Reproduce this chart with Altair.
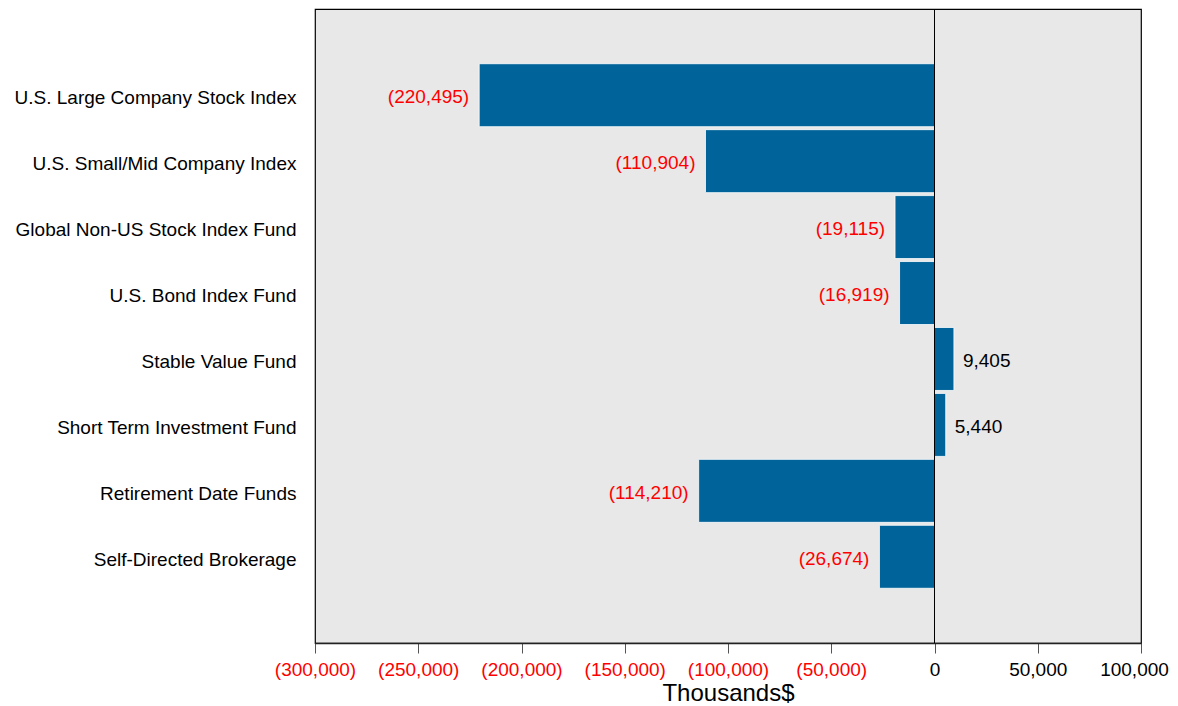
import altair as alt
import pandas as pd

categories = [
    "U.S. Large Company Stock Index",
    "U.S. Small/Mid Company Index",
    "Global Non-US Stock Index Fund",
    "U.S. Bond Index Fund",
    "Stable Value Fund",
    "Short Term Investment Fund",
    "Retirement Date Funds",
    "Self-Directed Brokerage",
]
values = [-220495, -110904, -19115, -16919, 9405, 5440, -114210, -26674]
x_ticks = [-300000, -250000, -200000, -150000, -100000, -50000, 0, 50000, 100000]

df = pd.DataFrame({"cat": categories, "val": values})
df["label"] = [f"({-v:,})" if v < 0 else f"{v:,}" for v in values]

FONT = "Liberation Sans"
FS = 19

x_scale = alt.Scale(domain=[-300000, 100000], nice=False, zero=False)
y_scale = alt.Scale(domain=categories, paddingInner=0.045, paddingOuter=0.83)

base = alt.Chart(df)

bars = base.mark_bar(color="#006399", stroke="#ffffff", strokeWidth=0.8).encode(
    x=alt.X(
        "val:Q",
        scale=x_scale,
        title="Thousands$",
        axis=alt.Axis(
            values=x_ticks,
            labelExpr="datum.value < 0 ? '(' + format(-datum.value, ',') + ')' : format(datum.value, ',')",
            labelColor={"condition": {"test": "datum.value < 0", "value": "#ff0000"}, "value": "#000000"},
            labelOffset={"condition": {"test": "datum.value >= 100000", "value": -7}, "value": 0},
            labelFont=FONT,
            labelFontSize=FS,
            labelPadding=7,
            labelOverlap=False,
            labelFlush=False,
            labelBound=False,
            tickSize=10,
            tickColor="#555555",
            domainColor="#222222",
            domainWidth=1.5,
            grid=False,
            titleFont=FONT,
            titleFontSize=24,
            titleFontWeight="normal",
            titleColor="#000000",
            titlePadding=2,
        ),
    ),
    y=alt.Y(
        "cat:N",
        scale=y_scale,
        sort=categories,
        title=None,
        axis=alt.Axis(
            ticks=False,
            domain=False,
            labelFont=FONT,
            labelFontSize=FS,
            labelColor="#000000",
            labelPadding=19,
            labelLimit=400,
            labelOffset=3,
        ),
    ),
)

neg_text = base.transform_filter("datum.val < 0").mark_text(
    align="right", baseline="middle", dx=-10, dy=2, font=FONT, fontSize=FS, color="#ff0000"
).encode(x=alt.X("val:Q", scale=x_scale), y=alt.Y("cat:N", scale=y_scale, sort=categories), text="label:N")

pos_text = base.transform_filter("datum.val >= 0").mark_text(
    align="left", baseline="middle", dx=9, dy=2, font=FONT, fontSize=FS, color="#000000"
).encode(x=alt.X("val:Q", scale=x_scale), y=alt.Y("cat:N", scale=y_scale, sort=categories), text="label:N")

zero_df = pd.DataFrame({"z": [0]})
zero_line = alt.Chart(zero_df).mark_rule(color="#000000", strokeWidth=1).encode(
    x=alt.X("z:Q", scale=x_scale)
)

chart = alt.layer(bars, zero_line, neg_text, pos_text).properties(
    width=826,
    height=634,
    background="#ffffff",
    autosize=alt.AutoSizeParams(type="none"),
    padding={"left": 307, "top": 1, "right": 29, "bottom": 62},
).configure_view(
    fill="#e8e8e8", stroke="#000000", strokeWidth=1.2
)

chart.save("out.html", embed_options={"renderer": "svg", "actions": False})
